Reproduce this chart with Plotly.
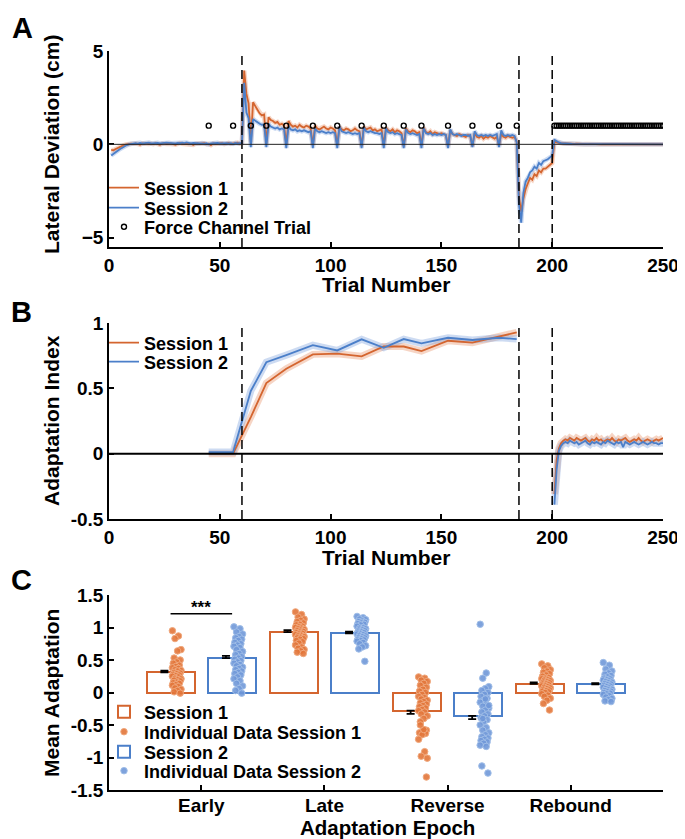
import plotly.graph_objects as go

# ---------------- DATA ----------------
trials = list(range(1, 251))

dev_s1 = [
    -0.30, -0.32, -0.25, -0.18, -0.12, -0.08, -0.03, 0.00, 0.02, 0.03,
    0.01, 0.04, 0.02, -0.02, 0.05, 0.03, 0.06, 0.02, 0.04, 0.01,
    0.05, 0.03, -0.03, 0.04, 0.06, 0.02, 0.03, 0.05, 0.01, -0.02,
    0.04, 0.07, 0.03, 0.02, 0.05, 0.01, 0.04, -0.03, 0.03, 0.05,
    0.02, 0.04, 0.06, 0.01, 0.03, -0.04, 0.05, 0.02, 0.04, 0.03,
    0.06, 0.01, 0.04, 0.08, 0.02, 0.03, 0.05, 0.09, 0.04, 0.06,
    3.95, 2.70, 2.20, 0.10, 2.25, 2.05, 1.85, 1.65, 1.55, 1.60,
    0.05, 1.45, 1.30, 1.25, 1.15, 1.20, 1.05, 1.10, 1.00, 0.00,
    1.25, 1.05, 0.95, 1.00, 0.90, 1.05, 0.95, 0.90, 1.00, 0.95,
    0.85, -0.05, 1.00, 0.85, 0.80, 0.90, 0.95, 0.85, 0.80, 0.90,
    0.85, 0.75, -0.05, 0.95, 0.80, 0.75, 0.85, 0.80, 0.70, 0.75,
    0.85, 0.75, 0.70, -0.10, 0.95, 0.80, 0.85, 0.90, 0.75, 0.80,
    0.70, 0.75, 0.80, -0.05, 0.90, 0.75, 0.70, 0.80, 0.65, 0.75,
    0.70, 0.60, -0.10, 0.85, 0.70, 0.65, 0.75, 0.70, 0.60, 0.65,
    -0.05, 0.90, 0.65, 0.60, 0.70, 0.55, 0.65, 0.60, 0.55, 0.60,
    0.55, 0.50, -0.10, 0.75, 0.55, 0.50, 0.45, 0.55, 0.50, 0.45,
    0.40, 0.50, 0.45, -0.10, 0.60, 0.40, 0.35, 0.45, 0.30, 0.40,
    0.35, 0.45, 0.35, 0.30, 0.40, -0.05, 0.55, 0.40, 0.35, 0.45,
    0.40, 0.35, 0.40, 0.15, -2.80, -3.60, -2.90, -2.40, -2.10, -1.80,
    -1.90, -1.60, -1.70, -1.40, -1.50, -1.30, -1.30, -1.20, -1.10, -1.00,
    0.15, 0.10, 0.08, 0.06, 0.05, 0.04, 0.04, 0.03, 0.03, 0.02,
    0.03, 0.02, 0.02, 0.01, 0.02, 0.01, 0.02, 0.01, 0.01, 0.02,
    0.01, 0.00, 0.01, 0.01, 0.00, 0.01, 0.00, 0.01, 0.00, 0.01,
    0.00, 0.01, 0.00, 0.00, 0.01, 0.00, 0.00, 0.01, 0.00, 0.00,
    0.01, 0.00, 0.00, 0.01, 0.00, 0.00, 0.00, 0.01, 0.00, 0.00,
]

dev_s2 = [
    -0.60, -0.50, -0.42, -0.33, -0.25, -0.18, -0.10, -0.04, 0.00, 0.03,
    0.05, 0.06, 0.04, 0.08, 0.05, 0.07, 0.06, 0.09, 0.05, 0.07,
    0.06, 0.08, 0.05, 0.07, 0.06, 0.09, 0.08, 0.06, 0.07, 0.05,
    0.08, 0.06, 0.09, 0.07, 0.10, 0.06, 0.05, 0.08, 0.07, 0.06,
    0.05, 0.07, 0.04, 0.06, 0.00, 0.05, 0.07, 0.06, 0.08, 0.05,
    0.06, 0.04, 0.07, 0.05, 0.06, 0.02, 0.07, 0.05, 0.06, 0.08,
    3.30, 1.70, 1.40, -0.15, 1.35, 1.25, 1.20, 1.10, 1.05, 1.05,
    -0.15, 1.10, 0.95, 0.90, 0.85, 0.90, 0.80, 0.85, 0.80, -0.20,
    0.95, 0.80, 0.75, 0.80, 0.70, 0.75, 0.70, 0.75, 0.70, 0.65,
    0.70, -0.20, 0.85, 0.70, 0.65, 0.70, 0.65, 0.60, 0.65, 0.60,
    0.65, 0.60, -0.20, 0.95, 0.70, 0.65, 0.60, 0.65, 0.60, 0.55,
    0.60, 0.55, 0.60, -0.20, 0.90, 0.70, 0.65, 0.70, 0.65, 0.60,
    0.60, 0.55, 0.60, -0.20, 0.85, 0.65, 0.60, 0.65, 0.55, 0.60,
    0.55, 0.50, -0.20, 0.80, 0.60, 0.55, 0.60, 0.55, 0.50, 0.55,
    -0.20, 0.85, 0.60, 0.55, 0.60, 0.50, 0.55, 0.50, 0.55, 0.50,
    0.55, 0.50, -0.20, 0.80, 0.55, 0.50, 0.55, 0.50, 0.45, 0.50,
    0.50, 0.45, 0.50, -0.15, 0.70, 0.50, 0.45, 0.50, 0.45, 0.50,
    0.45, 0.50, 0.45, 0.50, 0.55, -0.15, 0.75, 0.50, 0.45, 0.50,
    0.45, 0.50, 0.45, 0.10, -3.20, -4.20, -2.60, -2.00, -1.80, -1.50,
    -1.40, -1.20, -1.30, -1.00, -1.10, -0.90, -0.85, -0.80, -0.70, -0.60,
    0.25, 0.15, 0.10, 0.07, 0.05, 0.04, 0.03, 0.03, 0.02, 0.02,
    0.02, 0.02, 0.01, 0.02, 0.01, 0.01, 0.02, 0.01, 0.01, 0.01,
    0.01, 0.00, 0.01, 0.01, 0.00, 0.01, 0.00, 0.01, 0.00, 0.01,
    0.00, 0.01, 0.00, 0.00, 0.01, 0.00, 0.00, 0.01, 0.00, 0.00,
    0.01, 0.00, 0.00, 0.01, 0.00, 0.00, 0.00, 0.01, 0.00, 0.00,
]

channel_trials = [45, 56, 64, 71, 80, 92, 103, 114, 124, 133, 141, 153, 164, 176, 184] + list(range(201, 251))
channel_marker_y = 1.0
phase_bounds = [60, 185, 200]

# Panel B: adaptation index on channel trials
b_field_trials = [45, 56, 64, 71, 80, 92, 103, 114, 124, 133, 141, 153, 164, 176, 184]
b_field_s1 = [0.00, 0.00, 0.28, 0.54, 0.65, 0.76, 0.765, 0.745, 0.82, 0.82, 0.785, 0.864, 0.85, 0.90, 0.928]
b_field_s2 = [0.012, 0.012, 0.48, 0.70, 0.754, 0.83, 0.79, 0.875, 0.81, 0.877, 0.844, 0.887, 0.87, 0.887, 0.877]
b_reb_trials = list(range(201, 251))
b_reb_s1 = [-0.31, -0.05, 0.04, 0.08, 0.10, 0.11, 0.10, 0.12, 0.11, 0.10,
            0.12, 0.11, 0.10, 0.11, 0.12, 0.10, 0.09, 0.11, 0.10, 0.12,
            0.10, 0.11, 0.09, 0.10, 0.11, 0.10, 0.12, 0.10, 0.09, 0.11,
            0.10, 0.11, 0.12, 0.10, 0.09, 0.10, 0.11, 0.10, 0.12, 0.10,
            0.09, 0.10, 0.11, 0.10, 0.09, 0.10, 0.11, 0.10, 0.11, 0.12]
b_reb_s2 = [-0.39, -0.12, 0.02, 0.06, 0.08, 0.09, 0.08, 0.10, 0.09, 0.08,
            0.09, 0.07, 0.08, 0.09, 0.10, 0.08, 0.07, 0.09, 0.08, 0.09,
            0.08, 0.07, 0.09, 0.08, 0.10, 0.09, 0.08, 0.07, 0.09, 0.08,
            0.09, 0.05, 0.09, 0.08, 0.07, 0.08, 0.09, 0.08, 0.07, 0.08,
            0.09, 0.08, 0.07, 0.08, 0.09, 0.08, 0.08, 0.07, 0.08, 0.08]

# Panel C
epochs = ["Early", "Late", "Reverse", "Rebound"]
mean_s1 = [0.31, 0.93, -0.28, 0.135]
mean_s2 = [0.53, 0.91, -0.36, 0.125]
sem_s1 = [0.025, 0.03, 0.05, 0.02]
sem_s2 = [0.035, 0.025, 0.05, 0.02]

ind_early_s1 = [0.95, 0.87, 0.83, 0.66, 0.64, 0.53, 0.50, 0.47, 0.45, 0.42, 0.40, 0.38, 0.37, 0.35, 0.34, 0.33, 0.31, 0.30, 0.29, 0.28,
                0.27, 0.26, 0.25, 0.24, 0.22, 0.21, 0.20, 0.19, 0.18, 0.16, 0.15, 0.14, 0.12, 0.11, 0.09, 0.07, 0.05, 0.03, 0.01, -0.01]
ind_early_s2 = [1.01, 0.98, 0.93, 0.90, 0.86, 0.84, 0.82, 0.80, 0.77, 0.75, 0.73, 0.71, 0.69, 0.66, 0.63, 0.60, 0.58, 0.55, 0.53, 0.51,
                0.49, 0.47, 0.45, 0.43, 0.41, 0.39, 0.37, 0.35, 0.33, 0.31, 0.29, 0.27, 0.24, 0.21, 0.18, 0.14, 0.10, 0.06, 0.03, -0.01]
ind_late_s1 = [1.24, 1.20, 1.16, 1.13, 1.11, 1.09, 1.07, 1.05, 1.04, 1.02, 1.01, 1.00, 0.99, 0.98, 0.97, 0.96, 0.95, 0.94, 0.93, 0.92,
               0.91, 0.90, 0.89, 0.88, 0.87, 0.86, 0.85, 0.84, 0.83, 0.82, 0.80, 0.78, 0.76, 0.73, 0.70, 0.68, 0.66, 0.64, 0.62, 0.60]
ind_late_s2 = [1.17, 1.15, 1.13, 1.12, 1.10, 1.09, 1.08, 1.07, 1.06, 1.05, 1.04, 1.02, 1.00, 0.99, 0.98, 0.97, 0.96, 0.95, 0.94, 0.93,
               0.92, 0.91, 0.90, 0.89, 0.88, 0.87, 0.86, 0.85, 0.84, 0.83, 0.82, 0.81, 0.80, 0.79, 0.77, 0.75, 0.72, 0.70, 0.67, 0.48]
ind_rev_s1 = [0.24, 0.22, 0.19, 0.17, 0.14, 0.11, 0.08, 0.05, 0.02, 0.00, -0.03, -0.06, -0.08, -0.10, -0.12, -0.14, -0.16, -0.18, -0.20, -0.22,
              -0.24, -0.26, -0.28, -0.30, -0.33, -0.36, -0.40, -0.45, -0.58, -0.60, -0.62, -0.63, -0.65, -0.72, -0.91, -0.98, -1.01, -0.57, -0.50, -1.30]
ind_rev_s2 = [1.05, 0.30, 0.22, 0.09, 0.06, 0.03, 0.00, -0.03, -0.06, -0.09, -0.12, -0.15, -0.18, -0.21, -0.24, -0.27, -0.30, -0.33, -0.36, -0.39,
              -0.42, -0.45, -0.50, -0.54, -0.58, -0.62, -0.65, -0.68, -0.70, -0.72, -0.74, -0.76, -0.78, -0.81, -0.83, -0.40, -0.20, -0.10, -1.13, -1.24]
ind_reb_s1 = [0.44, 0.41, 0.38, 0.35, 0.33, 0.31, 0.29, 0.27, 0.25, 0.23, 0.22, 0.21, 0.20, 0.19, 0.18, 0.17, 0.16, 0.15, 0.14, 0.13,
              0.12, 0.11, 0.10, 0.09, 0.08, 0.07, 0.06, 0.05, 0.04, 0.03, 0.02, 0.01, 0.00, -0.02, -0.04, -0.06, -0.09, -0.12, -0.17, -0.27]
ind_reb_s2 = [0.46, 0.42, 0.36, 0.33, 0.30, 0.28, 0.26, 0.24, 0.22, 0.21, 0.20, 0.19, 0.18, 0.17, 0.16, 0.15, 0.14, 0.13, 0.12, 0.11,
              0.10, 0.09, 0.08, 0.07, 0.06, 0.05, 0.04, 0.03, 0.02, 0.01, 0.00, -0.01, -0.02, -0.03, -0.05, -0.07, -0.09, -0.11, -0.13, -0.14]
ind_s1 = [ind_early_s1, ind_late_s1, ind_rev_s1, ind_reb_s1]
ind_s2 = [ind_early_s2, ind_late_s2, ind_rev_s2, ind_reb_s2]
sig_label = "***"
sig_y = 1.21

# ---------------- STYLE ----------------
FONT = "Liberation Sans, Arial, sans-serif"
ORANGE = "#D4652F"
BLUE = "#4B7FC9"
ORANGE_BAND = "rgba(232,150,110,0.4)"
BLUE_BAND = "rgba(130,165,222,0.4)"
OFF = 8              # page body margin in the browser
W, H = 685 - OFF, 839 - OFF

def px_x(p):
    return (p - OFF) / W

def px_y(p):
    return 1 - (p - OFF) / H

XDOM = [px_x(109), px_x(663)]
DOM_A = [px_y(247), px_y(51)]
DOM_B = [px_y(519), px_y(323)]
DOM_C = [px_y(790), px_y(595)]

fig = go.Figure()

# ---------- Panel A ----------
for ys, band in [(dev_s1, ORANGE_BAND), (dev_s2, BLUE_BAND)]:
    fig.add_trace(go.Scatter(x=trials, y=ys, mode="lines", line=dict(color=band, width=4.5),
                             showlegend=False, hoverinfo="skip", xaxis="x", yaxis="y"))
for ys, col, name, lg in [(dev_s1, ORANGE, "Session 1", "legend"), (dev_s2, BLUE, "Session 2", "legend2")]:
    fig.add_trace(go.Scatter(x=trials, y=ys, mode="lines", line=dict(color=col, width=1.8),
                             name=name, legend=lg, xaxis="x", yaxis="y"))
fig.add_trace(go.Scatter(x=channel_trials, y=[channel_marker_y] * len(channel_trials), mode="markers",
                         marker=dict(symbol="circle-open", size=5, color="black", line=dict(width=1.4)),
                         name="Force Channel Trial", legend="legend3", xaxis="x", yaxis="y"))

# ---------- Panel B ----------
b_x = b_field_trials + [None] + b_reb_trials
b_s1 = b_field_s1 + [None] + b_reb_s1
b_s2 = b_field_s2 + [None] + b_reb_s2
for ys, band in [(b_s1, ORANGE_BAND), (b_s2, BLUE_BAND)]:
    fig.add_trace(go.Scatter(x=b_x, y=ys, mode="lines", line=dict(color=band, width=7),
                             showlegend=False, hoverinfo="skip", xaxis="x2", yaxis="y2", connectgaps=False))
for ys, col, name, lg in [(b_s1, ORANGE, "Session 1", "legend4"), (b_s2, BLUE, "Session 2", "legend5")]:
    fig.add_trace(go.Scatter(x=b_x, y=ys, mode="lines", line=dict(color=col, width=1.8),
                             name=name, legend=lg, xaxis="x2", yaxis="y2", connectgaps=False))

# ---------- Panel C ----------
pos = list(range(1, len(epochs) + 1))
BAR_OFF = 0.25
BAR_W = 0.39
DOT_OFF = 0.05
ERR_OFF = -0.05

def jitter(n):
    return [((((i * 7) % 11) / 10.0) - 0.5) * 0.07 for i in range(n)]

for sess, means, sems, inds, col, dot_fill, dot_line, off, lg_bar, lg_dot in [
    (1, mean_s1, sem_s1, ind_s1, ORANGE, "rgba(226,118,58,0.9)", "rgba(240,168,125,1)", -BAR_OFF, "legend6", "legend7"),
    (2, mean_s2, sem_s2, ind_s2, BLUE, "rgba(112,152,216,0.9)", "rgba(160,190,232,1)", BAR_OFF, "legend8", "legend9"),
]:
    fig.add_trace(go.Bar(x=[p + off for p in pos], y=means, width=BAR_W,
                         marker=dict(color="rgba(255,255,255,0)", line=dict(color=col, width=2)),
                         name=f"Session {sess}", legend=lg_bar,
                         xaxis="x3", yaxis="y3"))
    fig.add_trace(go.Scatter(x=[p + off + ERR_OFF for p in pos], y=means, mode="markers",
                             marker=dict(size=1, color="rgba(0,0,0,0)"),
                             error_y=dict(type="data", symmetric=False,
                                          array=[s if m >= 0 else 0 for m, s in zip(means, sems)],
                                          arrayminus=[s if m < 0 else 0 for m, s in zip(means, sems)],
                                          color="black", thickness=1.8, width=4),
                             showlegend=False, hoverinfo="skip", xaxis="x3", yaxis="y3"))
    xs, ys = [], []
    for p, vals in zip(pos, inds):
        jit = jitter(len(vals))
        xs += [p + off + DOT_OFF + j for j in jit]
        ys += vals
    fig.add_trace(go.Scatter(x=xs, y=ys, mode="markers",
                             marker=dict(size=6.5, color=dot_fill, line=dict(color=dot_line, width=1)),
                             name=f"Individual Data Session {sess}", legend=lg_dot,
                             xaxis="x3", yaxis="y3"))

# ---------- Axes ----------
tickfont = dict(family=FONT, size=19, color="black", weight="bold")
axis_common = dict(showline=True, linecolor="black", linewidth=1.5, ticks="inside", ticklen=5,
                   tickwidth=1.5, tickcolor="black", showgrid=False, zeroline=False, tickfont=tickfont,
                   mirror=False)

fig.update_layout(
    xaxis=dict(domain=XDOM, range=[0, 250], tickvals=[0, 50, 100, 150, 200, 250], anchor="y", **axis_common),
    yaxis=dict(domain=DOM_A, range=[-5.5, 5], tickvals=[-5, 0, 5], anchor="x", **axis_common),
    xaxis2=dict(domain=XDOM, range=[0, 250], tickvals=[0, 50, 100, 150, 200, 250], anchor="y2", **axis_common),
    yaxis2=dict(domain=DOM_B, range=[-0.5, 1], tickvals=[-0.5, 0, 0.5, 1], ticktext=["-0.5", "0", "0.5", "1"],
                anchor="x2", **axis_common),
    xaxis3=dict(domain=XDOM, range=[0.25, 4.75], tickvals=pos, ticktext=epochs, anchor="y3",
                ticklabelstandoff=-3, **axis_common),
    yaxis3=dict(domain=DOM_C, range=[-1.5, 1.5], tickvals=[-1.5, -1, -0.5, 0, 0.5, 1, 1.5],
                ticktext=["-1.5", "-1", "-0.5", "0", "0.5", "1", "1.5"], anchor="x3", **axis_common),
)

shapes = []
for xr, yr in [("x", "y"), ("x2", "y2")]:
    for b in phase_bounds:
        shapes.append(dict(type="line", xref=xr, yref=yr + " domain", x0=b, x1=b, y0=0, y1=1,
                           line=dict(color="black", width=1.5, dash="9px,5px")))
shapes.append(dict(type="line", xref="x", yref="y", x0=0, x1=250, y0=0, y1=0, line=dict(color="#222", width=1)))
shapes.append(dict(type="line", xref="x2", yref="y2", x0=0, x1=250, y0=0, y1=0, line=dict(color="black", width=2)))
shapes.append(dict(type="line", xref="x3", yref="y3", x0=1 - BAR_OFF, x1=1 + BAR_OFF, y0=sig_y, y1=sig_y,
                   line=dict(color="black", width=1.5)))

title_font = dict(family=FONT, size=21, color="black", weight="bold")
letter_font = dict(family=FONT, size=29, color="black", weight="bold")

def ann(text, x, y, font, angle=0):
    return dict(text=text, x=px_x(x), y=px_y(y), xref="paper", yref="paper", showarrow=False,
                xanchor="center", yanchor="middle", textangle=angle, font=font)

annotations = [
    ann("A", 22, 28, letter_font),
    ann("B", 21, 312, letter_font),
    ann("C", 21, 580, letter_font),
    ann("Lateral Deviation (cm)", 51, 145, title_font, -90),
    ann("Trial Number", 386, 285, title_font),
    ann("Adaptation Index", 51, 421, title_font, -90),
    ann("Trial Number", 386, 557, title_font),
    ann("Mean Adaptation", 51, 693, title_font, -90),
    ann("Adaptation Epoch", 388, 827, dict(title_font, size=20.5)),
    dict(text=sig_label, x=1, y=sig_y, xref="x3", yref="y3", yanchor="bottom", xanchor="center",
         showarrow=False, yshift=-5, font=dict(family=FONT, size=17, color="black", weight="bold")),
]

leg_font = dict(family=FONT, size=18, color="black", weight="bold")

def leg(ypix, xpix=104):
    return dict(bgcolor="rgba(0,0,0,0)", font=leg_font, xanchor="left", yanchor="middle",
                x=px_x(xpix), y=px_y(ypix), itemwidth=30, borderwidth=0)

fig.update_layout(
    width=W, height=H,
    margin=dict(l=0, r=0, t=0, b=0, autoexpand=False),
    plot_bgcolor="white", paper_bgcolor="white",
    shapes=shapes, annotations=annotations,
    showlegend=True,
    legend=leg(188), legend2=leg(208), legend3=leg(227),
    legend4=leg(343), legend5=leg(362),
    legend6=leg(712), legend7=leg(732), legend8=leg(752), legend9=leg(771),
    bargap=0,
)

fig.write_html("out.html")
